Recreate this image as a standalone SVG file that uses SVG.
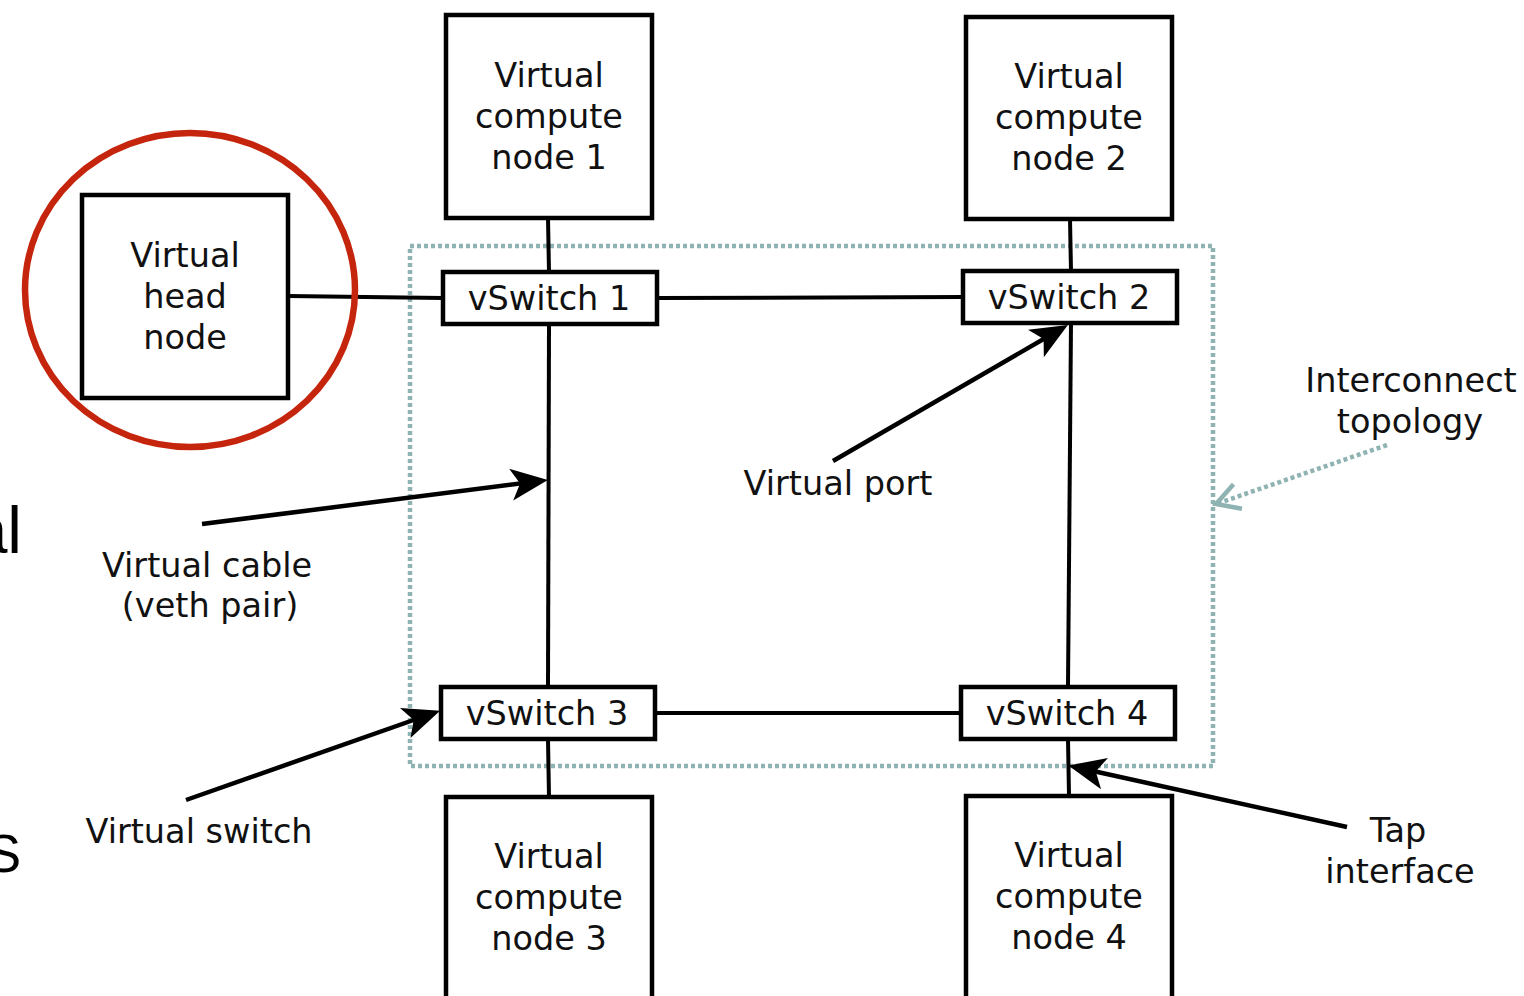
<svg xmlns="http://www.w3.org/2000/svg" width="1524" height="996" viewBox="0 0 1524 996">
<defs>
<style>
.box{fill:#fff;stroke:#000;stroke-width:4.5}
.t{font-family:"DejaVu Sans",sans-serif;font-size:33.5px;fill:#111;text-anchor:middle}
.c{stroke:#000;stroke-width:4;fill:none}
.a{stroke:#000;stroke-width:4.5;fill:none;marker-end:url(#ah)}
.dot{stroke:#8fb3b3;stroke-width:4.5;fill:none;stroke-dasharray:4 3}
.big{font-family:"Liberation Sans",Arial,sans-serif;fill:#000;text-anchor:end}
</style>
<marker id="ah" markerUnits="userSpaceOnUse" markerWidth="38" markerHeight="34" viewBox="0 0 38 34" refX="21" refY="17" orient="auto">
<path d="M0,1 L37,17 L0,33 L9,17 z" fill="#000"/>
</marker>
<marker id="oh" markerUnits="userSpaceOnUse" markerWidth="36" markerHeight="36" viewBox="0 0 36 36" refX="31" refY="18" orient="auto">
<path d="M8,5 L31,18 L8,31" fill="none" stroke="#8fb3b3" stroke-width="4.5"/>
</marker>
</defs>

<text class="big" x="22" y="553" font-size="66">al</text>
<text class="big" x="21" y="872" font-size="53">S</text>

<g id="interconnect">
<rect class="dot" x="410" y="246" width="803" height="520"/>
<path d="M1387,445 L1216,504" class="dot" marker-end="url(#oh)"/>
<text class="t" x="1411" y="392">Interconnect</text>
<text class="t" x="1410" y="433">topology</text>
</g>

<g id="connectors">
<line class="c" x1="548" y1="218" x2="549" y2="272"/>
<line class="c" x1="549" y1="324" x2="548" y2="687"/>
<line class="c" x1="548" y1="739" x2="549" y2="797"/>
<line class="c" x1="1070" y1="219" x2="1071" y2="271"/>
<line class="c" x1="1071" y1="323" x2="1068" y2="687"/>
<line class="c" x1="1068" y1="739" x2="1069" y2="796"/>
<line class="c" x1="288" y1="296" x2="443" y2="298"/>
<line class="c" x1="657" y1="298" x2="963" y2="297"/>
<line class="c" x1="655" y1="713" x2="961" y2="713"/>
</g>

<g id="head-node">
<rect class="box" x="82" y="195" width="206" height="203"/>
<text class="t" x="185" y="267">Virtual</text>
<text class="t" x="185" y="308">head</text>
<text class="t" x="185" y="349">node</text>
<ellipse cx="190" cy="290" rx="165" ry="157" fill="none" stroke="#c5250d" stroke-width="6.5"/>
</g>

<g id="compute-node-1">
<rect class="box" x="446" y="15" width="206" height="203"/>
<text class="t" x="549" y="87">Virtual</text>
<text class="t" x="549" y="128">compute</text>
<text class="t" x="549" y="169">node 1</text>
</g>
<g id="compute-node-2">
<rect class="box" x="966" y="17" width="206" height="202"/>
<text class="t" x="1069" y="88">Virtual</text>
<text class="t" x="1069" y="129">compute</text>
<text class="t" x="1069" y="170">node 2</text>
</g>
<g id="compute-node-3">
<rect class="box" x="446" y="797" width="206" height="210"/>
<text class="t" x="549" y="868">Virtual</text>
<text class="t" x="549" y="909">compute</text>
<text class="t" x="549" y="950">node 3</text>
</g>
<g id="compute-node-4">
<rect class="box" x="966" y="796" width="206" height="210"/>
<text class="t" x="1069" y="867">Virtual</text>
<text class="t" x="1069" y="908">compute</text>
<text class="t" x="1069" y="949">node 4</text>
</g>

<g id="vswitch-1">
<rect class="box" x="443" y="272" width="214" height="52"/>
<text class="t" x="549" y="310">vSwitch 1</text>
</g>
<g id="vswitch-2">
<rect class="box" x="963" y="271" width="214" height="52"/>
<text class="t" x="1069" y="309">vSwitch 2</text>
</g>
<g id="vswitch-3">
<rect class="box" x="441" y="687" width="214" height="52"/>
<text class="t" x="547" y="725">vSwitch 3</text>
</g>
<g id="vswitch-4">
<rect class="box" x="961" y="687" width="214" height="52"/>
<text class="t" x="1067" y="725">vSwitch 4</text>
</g>

<g id="annotations">
<line class="a" x1="202" y1="524" x2="532" y2="482"/>
<text class="t" x="207" y="577">Virtual cable</text>
<text class="t" x="210" y="617">(veth pair)</text>
<line class="a" x1="833" y1="461" x2="1054" y2="333"/>
<text class="t" x="838" y="495">Virtual port</text>
<line class="a" x1="186" y1="800" x2="425" y2="716"/>
<text class="t" x="199" y="843">Virtual switch</text>
<line class="a" x1="1347" y1="827" x2="1084" y2="769"/>
<text class="t" x="1398" y="842">Tap</text>
<text class="t" x="1400" y="883">interface</text>
</g>
</svg>
